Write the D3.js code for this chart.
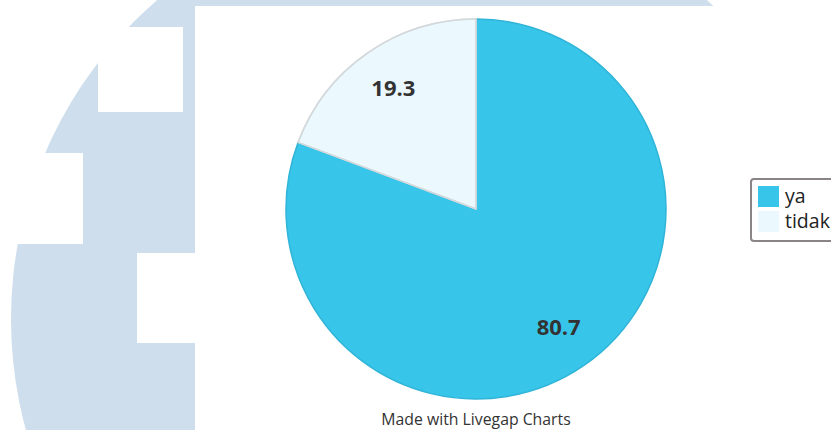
<!DOCTYPE html>
<html>
<head>
<meta charset="utf-8">
<script src="https://cdn.jsdelivr.net/npm/d3@7/dist/d3.min.js"></script>
<style>
  html, body { margin: 0; padding: 0; background: #fff; }
  svg { display: block; font-family: "Open Sans", sans-serif; }
</style>
</head>
<body>
<svg id="chart" width="831" height="430"></svg>
<script>
// Survey answers (percent)
const categories = ["ya", "tidak"];
const values = [80.7, 19.3];
const colors = ["#37c5e9", "#ebf8fd"];
const strokes = ["#30b4d8", "#d4d9dc"];
const footer = "Made with Livegap Charts";

const svg = d3.select("#chart");
const W = 831, H = 430;

// Background logo shape
const bg = svg.append("g");
bg.append("circle").attr("cx", 432).attr("cy", 319).attr("r", 421).attr("fill", "#cedeed");
const cutouts = [
  [98, 27, 85, 85],
  [0, 153, 83, 91],
  [137, 253, 60, 90],
  [195, 6, W - 195, H - 6]
];
bg.selectAll("rect.cut").data(cutouts).join("rect")
  .attr("class", "cut")
  .attr("x", d => d[0]).attr("y", d => d[1])
  .attr("width", d => d[2]).attr("height", d => d[3])
  .attr("fill", "#fff");

// Pie
const cx = 476, cy = 209, R = 190;
const pie = d3.pie().sort(null).value(d => d.v);
const data = categories.map((c, i) => ({ c, v: values[i], i }));
const arcs = pie(data);
const arc = d3.arc().innerRadius(0).outerRadius(R);
const labelArc = d3.arc().innerRadius(145).outerRadius(145);

const g = svg.append("g").attr("transform", `translate(${cx},${cy})`);
g.selectAll("path").data(arcs).join("path")
  .attr("d", arc)
  .attr("fill", d => colors[d.data.i])
  .attr("stroke", d => strokes[d.data.i])
  .attr("stroke-width", 1.5)
  .attr("stroke-linejoin", "round");
// keep the light slice border on top
g.append("path").datum(arcs[1]).attr("d", arc)
  .attr("fill", "none").attr("stroke", strokes[1]).attr("stroke-width", 1.5);

g.selectAll("text.val").data(arcs).join("text")
  .attr("class", "val")
  .attr("transform", d => `translate(${labelArc.centroid(d)})`)
  .attr("text-anchor", "middle")
  .attr("dy", "0.3em")
  .attr("font-size", 22)
  .attr("font-weight", 700)
  .attr("fill", "#333")
  .text(d => d.data.v);

// Legend
const lg = svg.append("g").attr("transform", "translate(751,179)");
lg.append("rect").attr("x", 0).attr("y", 0).attr("width", 100).attr("height", 62)
  .attr("rx", 3).attr("fill", "#fff").attr("stroke", "#8a8486").attr("stroke-width", 2);
const items = lg.selectAll("g.item").data(categories).join("g")
  .attr("class", "item")
  .attr("transform", (d, i) => `translate(7,${7 + i * 25})`);
items.append("rect").attr("width", 21).attr("height", 21)
  .attr("fill", (d, i) => colors[i]);
items.append("text").attr("x", 27).attr("y", 17)
  .attr("font-size", 19.5).attr("fill", "#222").text(d => d);

// Footer
svg.append("text").attr("x", cx).attr("y", 425).attr("text-anchor", "middle")
  .attr("font-size", 15.8).attr("fill", "#333").text(footer);
</script>
</body>
</html>
